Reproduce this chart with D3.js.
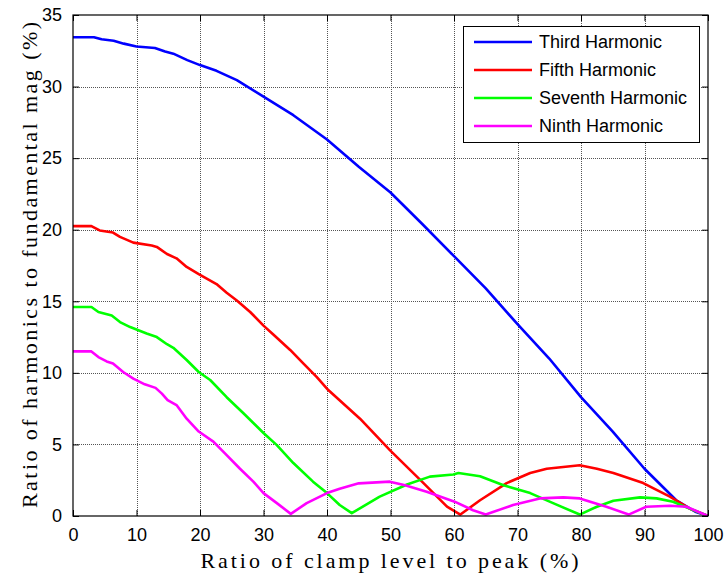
<!DOCTYPE html>
<html>
<head>
<meta charset="utf-8">
<script src="https://cdn.jsdelivr.net/npm/d3@7"></script>
<style>
  html, body { margin: 0; padding: 0; background: #fff; }
  svg { display: block; }
</style>
</head>
<body>
<svg id="chart" width="725" height="575"></svg>
<script>
// Harmonic content vs. clamp level (x in %, y in % of fundamental)
const thirdX = [0, 3.3, 4.5, 6.4, 8, 10, 12.9, 14.5, 15.8, 18, 20, 22.6, 25.8, 30, 34.7, 40, 45, 50, 55, 60, 65, 70, 75, 80, 85, 90, 95, 98, 100];
const thirdY = [33.45, 33.45, 33.3, 33.2, 33.0, 32.8, 32.7, 32.45, 32.3, 31.85, 31.5, 31.1, 30.45, 29.3, 28.0, 26.3, 24.4, 22.6, 20.4, 18.15, 15.9, 13.4, 11.0, 8.3, 5.9, 3.3, 1.1, 0.3, 0];

const fifthX = [0, 2.9, 4.2, 6.3, 7.4, 9.5, 12.4, 13.2, 14.8, 16.3, 17.9, 19.8, 22.6, 24.2, 25.8, 27.9, 30, 31.5, 34.2, 36.3, 38.4, 40.2, 45.2, 49.9, 55.2, 58.9, 61, 64.1, 68.3, 72, 74.6, 79.8, 82.5, 85.1, 89.8, 94, 97.2, 100];
const fifthY = [20.25, 20.25, 19.95, 19.8, 19.5, 19.1, 18.9, 18.8, 18.3, 18.0, 17.4, 16.9, 16.2, 15.6, 15.06, 14.25, 13.3, 12.7, 11.6, 10.65, 9.7, 8.8, 6.8, 4.6, 2.3, 0.65, 0.1, 1.1, 2.3, 3.0, 3.3, 3.55, 3.3, 3.0, 2.3, 1.35, 0.5, 0];

const seventhX = [0, 2.9, 4.0, 6.1, 7.4, 9.0, 11.6, 13.2, 14.8, 15.8, 17.9, 19.8, 21.6, 24.2, 26.8, 30, 32.1, 34.7, 37.8, 40, 42, 43.9, 48.3, 52.6, 56.2, 59.9, 60.7, 64.1, 67.8, 72, 75.6, 79.8, 82.5, 85.1, 89.3, 91.9, 94.5, 97.2, 100];
const seventhY = [14.6, 14.6, 14.25, 14.0, 13.55, 13.2, 12.75, 12.5, 12.0, 11.75, 10.9, 10.06, 9.5, 8.3, 7.2, 5.8, 4.95, 3.7, 2.4, 1.6, 0.77, 0.2, 1.35, 2.2, 2.75, 2.9, 3.0, 2.78, 2.15, 1.6, 0.9, 0.1, 0.65, 1.07, 1.3, 1.23, 1.0, 0.5, 0];

const ninthX = [0, 2.9, 4.0, 5.3, 6.3, 7.9, 9.5, 11.3, 13.0, 14.0, 14.9, 16.3, 17.9, 19.8, 22.1, 24.2, 26.3, 28.4, 30, 32.1, 34.3, 36.8, 40, 42, 45, 49.9, 52.3, 55.7, 60.1, 63, 65, 69.3, 73.5, 77.2, 79.8, 84, 87.5, 90.3, 94, 96.6, 100];
const ninthY = [11.5, 11.5, 11.1, 10.8, 10.65, 10.06, 9.6, 9.2, 8.95, 8.55, 8.1, 7.75, 6.8, 5.9, 5.2, 4.25, 3.3, 2.4, 1.6, 0.9, 0.15, 0.9, 1.6, 1.9, 2.28, 2.4, 2.15, 1.7, 1.0, 0.4, 0.1, 0.77, 1.23, 1.3, 1.23, 0.65, 0.1, 0.65, 0.72, 0.65, 0];

const seriesNames = ["Third Harmonic", "Fifth Harmonic", "Seventh Harmonic", "Ninth Harmonic"];
const seriesColors = ["#0000ff", "#ff0000", "#00ff00", "#ff00ff"];
const seriesX = [thirdX, fifthX, seventhX, ninthX];
const seriesY = [thirdY, fifthY, seventhY, ninthY];

const xTicks = [0, 10, 20, 30, 40, 50, 60, 70, 80, 90, 100];
const yTicks = [0, 5, 10, 15, 20, 25, 30, 35];

const xTitle = "Ratio of clamp level to peak (%)";
const yTitle = "Ratio of harmonics to fundamental mag (%)";

const svg = d3.select("#chart");
const plotL = 73, plotR = 708, plotT = 15, plotB = 516;

const x = d3.scaleLinear().domain([0, 100]).range([plotL, plotR]);
const y = d3.scaleLinear().domain([0, 35]).range([plotB, plotT]);

const tickFont = "Arial, 'Liberation Sans', sans-serif";
const titleFont = "'Liberation Serif', 'DejaVu Serif', serif";

// dotted grid
const grid = svg.append("g");
grid.selectAll("line.gx").data(xTicks.slice(1, -1)).join("line")
  .attr("x1", d => Math.round(x(d)) + 0.5).attr("x2", d => Math.round(x(d)) + 0.5)
  .attr("y1", plotT).attr("y2", plotB)
  .attr("stroke", "#555").attr("stroke-width", 1).attr("stroke-dasharray", "1,1");
grid.selectAll("line.gy").data(yTicks.slice(1, -1)).join("line")
  .attr("y1", d => Math.round(y(d)) + 0.5).attr("y2", d => Math.round(y(d)) + 0.5)
  .attr("x1", plotL).attr("x2", plotR)
  .attr("stroke", "#555").attr("stroke-width", 1).attr("stroke-dasharray", "1,1");

// curves
svg.append("defs").append("clipPath").attr("id", "plotClip")
  .append("rect").attr("x", plotL).attr("y", plotT - 2).attr("width", plotR - plotL + 2).attr("height", plotB - plotT + 3);

const line = d3.line().x(d => x(d[0])).y(d => y(d[1]));
const curves = svg.append("g").attr("clip-path", "url(#plotClip)");
seriesNames.forEach((name, i) => {
  const pts = seriesX[i].map((v, j) => [v, seriesY[i][j]]);
  curves.append("path")
    .datum(pts)
    .attr("d", line)
    .attr("fill", "none")
    .attr("stroke", seriesColors[i])
    .attr("stroke-width", 2.6)
    .attr("stroke-linejoin", "round");
});

// axes: bottom / left with labels, top / right mirrored ticks only
const tickLen = 6;
const xAxis = d3.axisBottom(x).tickValues(xTicks).tickSize(-tickLen).tickPadding(12);
const yAxis = d3.axisLeft(y).tickValues(yTicks).tickSize(-tickLen).tickPadding(11);
const xAxisTop = d3.axisTop(x).tickValues(xTicks).tickSize(-tickLen).tickFormat("");
const yAxisRight = d3.axisRight(y).tickValues(yTicks).tickSize(-tickLen).tickFormat("");

function styleAxis(g) {
  g.select(".domain").remove();
  g.selectAll(".tick line").attr("stroke", "#000").attr("stroke-width", 1);
  g.selectAll(".tick text")
    .attr("fill", "#000")
    .style("font-family", tickFont)
    .style("font-size", "18px");
}

svg.append("g").attr("transform", `translate(0,${plotB})`).call(xAxis).call(styleAxis);
svg.append("g").attr("transform", `translate(${plotL},0)`).call(yAxis).call(styleAxis);
svg.append("g").attr("transform", `translate(0,${plotT})`).call(xAxisTop).call(styleAxis);
svg.append("g").attr("transform", `translate(${plotR},0)`).call(yAxisRight).call(styleAxis);

// frame
svg.append("rect")
  .attr("x", plotL).attr("y", plotT)
  .attr("width", plotR - plotL).attr("height", plotB - plotT)
  .attr("fill", "none").attr("stroke", "#000").attr("stroke-width", 1.2);

// titles
svg.append("text")
  .attr("x", (plotL + plotR) / 2 - 1).attr("y", 568)
  .attr("text-anchor", "middle")
  .attr("textLength", 378).attr("lengthAdjust", "spacing")
  .style("font-family", titleFont).style("font-size", "22px")
  .attr("fill", "#000")
  .text(xTitle);

svg.append("text")
  .attr("transform", "translate(37,265) rotate(-90)")
  .attr("text-anchor", "middle")
  .attr("textLength", 486).attr("lengthAdjust", "spacing")
  .style("font-family", titleFont).style("font-size", "22px")
  .attr("fill", "#000")
  .text(yTitle);

// legend
const lg = svg.append("g");
lg.append("rect")
  .attr("x", 463.5).attr("y", 26.5).attr("width", 236).attr("height", 116)
  .attr("fill", "#fff").attr("stroke", "#000").attr("stroke-width", 1);
const rowY = d3.scalePoint().domain(seriesNames).range([42, 126]);
seriesNames.forEach((name, i) => {
  lg.append("line")
    .attr("x1", 474).attr("x2", 532)
    .attr("y1", rowY(name)).attr("y2", rowY(name))
    .attr("stroke", seriesColors[i]).attr("stroke-width", 2.6);
  lg.append("text")
    .attr("x", 539).attr("y", rowY(name))
    .attr("dy", "0.36em")
    .style("font-family", tickFont).style("font-size", "18px")
    .attr("fill", "#000")
    .text(name);
});
</script>
</body>
</html>
